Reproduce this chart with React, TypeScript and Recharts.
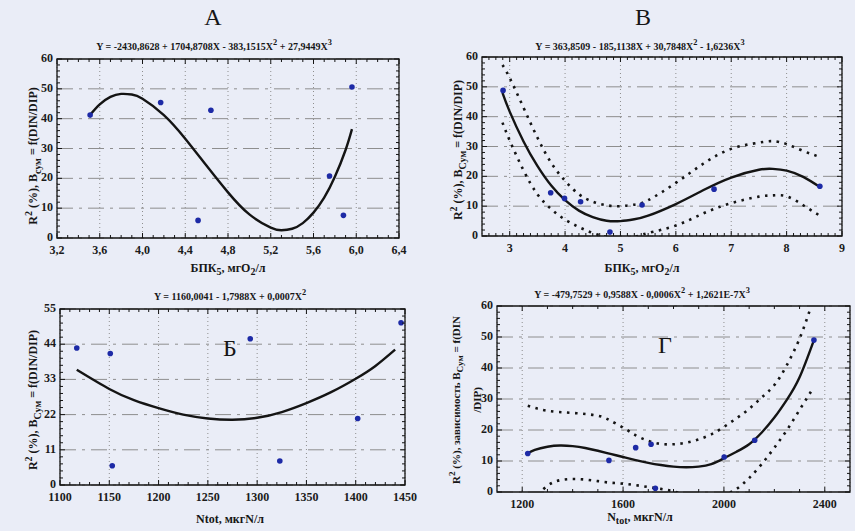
import React from "react";
import {
  ComposedChart,
  Line,
  Scatter,
  XAxis,
  YAxis,
  CartesianGrid,
  ReferenceArea,
} from "recharts";

// panel A: BOD5 vs R2
const aPtX = [3.51, 4.17, 4.52, 4.64, 5.75, 5.88, 5.96];
const aPtY = [41.2, 45.4, 5.9, 42.8, 20.8, 7.6, 50.6];
const aFitX = [3.51, 3.6, 3.7, 3.8, 3.9, 4.0, 4.2, 4.4, 4.6, 4.8, 5.0, 5.2, 5.3, 5.4, 5.5, 5.6, 5.7, 5.8, 5.9, 5.96];
const aFitY = [41.3, 44.8, 47.3, 48.3, 48.1, 46.7, 41.2, 33.3, 24.2, 15.3, 7.9, 3.5, 2.6, 3.1, 5.0, 8.5, 13.5, 20.5, 29.5, 36.5];

// panel B: BOD5 vs R2 with confidence band
const bPtX = [2.88, 3.74, 3.99, 4.28, 4.81, 5.39, 6.69, 8.6];
const bPtY = [48.8, 14.5, 12.6, 11.5, 1.3, 10.4, 15.7, 16.7];
const bFitX = [2.87, 3.0, 3.25, 3.5, 3.75, 4.0, 4.25, 4.5, 4.75, 5.0, 5.25, 5.5, 6.0, 6.5, 7.0, 7.5, 7.75, 8.0, 8.3, 8.6];
const bFitY = [48.0, 41.7, 31.7, 23.5, 16.9, 12.0, 8.5, 6.3, 5.1, 5.0, 5.6, 6.8, 10.7, 15.4, 19.6, 22.2, 22.5, 21.9, 19.8, 16.4];
const bUpY = [57.3, 53.0, 43.0, 33.0, 24.5, 18.5, 14.0, 11.5, 10.3, 10.0, 10.5, 12.0, 17.8, 24.3, 29.2, 31.3, 31.8, 30.8, 28.5, 26.5];
const bLoY = [38.0, 32.0, 22.0, 14.0, 9.0, 5.5, 3.0, 1.0, -0.3, -0.8, -0.3, 1.0, 3.5, 7.6, 11.0, 13.2, 13.6, 13.3, 10.3, 6.8];

// panel Б: Ntot vs R2
const cPtX = [1117, 1151, 1153, 1293, 1323, 1402, 1446];
const cPtY = [42.8, 41.1, 6.0, 45.7, 7.5, 20.8, 50.7];
const cFitX = [1117, 1150, 1175, 1200, 1225, 1250, 1275, 1300, 1325, 1350, 1375, 1400, 1420, 1440];
const cFitY = [36.0, 30.0, 26.5, 24.0, 22.0, 20.8, 20.4, 21.0, 22.8, 25.6, 29.0, 33.2, 37.2, 42.3];

// panel Г: Ntot vs R2 with confidence band
const dPtX = [1222, 1544, 1650, 1711, 1728, 2001, 2122, 2357];
const dPtY = [12.4, 10.2, 14.3, 15.4, 1.2, 11.3, 16.7, 49.0];
const dFitX = [1222, 1250, 1300, 1350, 1400, 1450, 1500, 1550, 1600, 1650, 1700, 1750, 1800, 1850, 1900, 1950, 2000, 2050, 2100, 2150, 2200, 2250, 2300, 2357];
const dFitY = [12.5, 13.6, 14.6, 15.0, 14.8, 14.2, 13.3, 12.3, 11.3, 10.3, 9.4, 8.7, 8.2, 8.0, 8.2, 9.0, 10.9, 13.0, 15.4, 19.2, 24.0, 29.8, 37.0, 49.0];
const dUpX = [1222, 1300, 1400, 1500, 1550, 1600, 1650, 1700, 1750, 1800, 1850, 1900, 1950, 2000, 2050, 2100, 2150, 2200, 2250, 2300, 2340];
const dUpY = [27.8, 26.2, 25.5, 24.6, 23.0, 20.8, 18.3, 16.5, 15.5, 15.4, 15.9, 17.0, 18.6, 21.0, 23.8, 26.8, 30.5, 34.5, 41.0, 49.5, 58.5];
const dLoX = [1222, 1250, 1300, 1350, 1400, 1450, 1500, 1550, 1600, 1650, 1700, 1750, 1800, 1850, 1900, 1950, 2000, 2050, 2100, 2150, 2200, 2250, 2300, 2350];
const dLoY = [-5.0, -2.0, 2.0, 3.8, 4.2, 4.0, 3.5, 3.0, 2.7, 2.2, 1.6, 1.0, 0.2, -1.0, -2.0, -2.0, -1.0, 1.0, 4.5, 9.0, 14.3, 20.0, 26.5, 33.0];

const aTicksX = [3.2, 3.6, 4.0, 4.4, 4.8, 5.2, 5.6, 6.0, 6.4];
const bTicksX = [3, 4, 5, 6, 7, 8, 9];
const cTicksX = [1100, 1150, 1200, 1250, 1300, 1350, 1400, 1450];
const dTicksX = [1200, 1600, 2000, 2400];
const ticks60 = [0, 10, 20, 30, 40, 50, 60];
const ticks55 = [0, 11, 22, 33, 44, 55];

const zip = (xs: number[], ys: number[]) => xs.map((x, i) => ({ x, y: ys[i] }));

const SERIF = "'Liberation Serif', 'DejaVu Serif', serif";
const INK = "#141414";
const tickText = { fontSize: 12, fontWeight: 700, fill: "#1b1b1b", fontFamily: SERIF };
const comma = (v: number) => v.toFixed(1).replace(".", ",");

type Pt = { x: number; y: number };

function Panel(props: {
  left: number;
  top: number;
  width: number;
  height: number;
  margin: { top: number; right: number; bottom: number; left: number };
  yWidth: number;
  xHeight: number;
  xDomain: [number, number];
  xTicks: number[];
  xSub: number;
  yTicks: number[];
  ySub: number;
  xFmt?: (v: number) => string;
  points: Pt[];
  fit: Pt[];
  upper?: Pt[];
  lower?: Pt[];
}) {
  const { xDomain, yTicks, xTicks, margin } = props;
  const yDomain: [number, number] = [yTicks[0], yTicks[yTicks.length - 1]];
  const pl = margin.left + props.yWidth;
  const pr = props.width - margin.right;
  const pt = margin.top;
  const pb = props.height - margin.bottom - props.xHeight;
  // spacing of minor ticks in pixels
  const xMinorPx = (((xTicks[1] - xTicks[0]) / props.xSub) * (pr - pl)) / (xDomain[1] - xDomain[0]);
  const yMinorPx = (((yTicks[1] - yTicks[0]) / props.ySub) * (pb - pt)) / (yDomain[1] - yDomain[0]);

  const xTick = (p: any) => {
    const x = p.x;
    const minors: number[] = [];
    for (let k = 1; k < props.xSub; k++) {
      if (x + k * xMinorPx < pr - 1) minors.push(x + k * xMinorPx);
      if (p.index === 0 && x - k * xMinorPx > pl + 1) minors.push(x - k * xMinorPx);
    }
    const fmt = props.xFmt ? props.xFmt(p.payload.value) : String(p.payload.value);
    return (
      <g>
        <text x={x} y={pb + 7} dy="0.71em" textAnchor="middle" {...tickText}>
          {fmt}
        </text>
        <line x1={x} x2={x} y1={pb} y2={pb - 5} stroke={INK} />
        <line x1={x} x2={x} y1={pt} y2={pt + 5} stroke={INK} />
        {minors.map((m, i) => (
          <g key={i}>
            <line x1={m} x2={m} y1={pb} y2={pb - 3} stroke={INK} />
            <line x1={m} x2={m} y1={pt} y2={pt + 3} stroke={INK} />
          </g>
        ))}
      </g>
    );
  };

  const yTick = (p: any) => {
    const y = p.y;
    const minors: number[] = [];
    for (let k = 1; k < props.ySub; k++) {
      if (y - k * yMinorPx > pt + 1) minors.push(y - k * yMinorPx);
    }
    return (
      <g>
        <text x={pl - 4} y={y - 1} dy="0.34em" textAnchor="end" {...tickText}>
          {p.payload.value}
        </text>
        <line x1={pl} x2={pl + 5} y1={y} y2={y} stroke={INK} />
        <line x1={pr} x2={pr - 5} y1={y} y2={y} stroke={INK} />
        {minors.map((m, i) => (
          <g key={i}>
            <line x1={pl} x2={pl + 3} y1={m} y2={m} stroke={INK} />
            <line x1={pr} x2={pr - 3} y1={m} y2={m} stroke={INK} />
          </g>
        ))}
      </g>
    );
  };

  const dot = (p: any) => <circle cx={p.cx} cy={p.cy} r={2.8} fill="#1d2aa6" />;
  return (
    <div style={{ position: "absolute", left: props.left, top: props.top }}>
      <ComposedChart width={props.width} height={props.height} margin={margin}>
        <CartesianGrid horizontal vertical={false} stroke="#8e8e8e" strokeDasharray="16 6 3 6" />
        <CartesianGrid horizontal={false} vertical stroke="#8e8e8e" strokeDasharray="1 3" />
        <XAxis
          type="number"
          dataKey="x"
          domain={xDomain}
          ticks={xTicks}
          interval={0}
          allowDataOverflow
          tick={xTick}
          tickLine={false}
          axisLine={false}
          height={props.xHeight}
        />
        <YAxis
          type="number"
          domain={yDomain}
          ticks={yTicks}
          interval={0}
          allowDataOverflow
          tick={yTick}
          tickLine={false}
          axisLine={false}
          width={props.yWidth}
        />
        <ReferenceArea
          x1={xDomain[0]}
          x2={xDomain[1]}
          y1={yDomain[0]}
          y2={yDomain[1]}
          fill="none"
          fillOpacity={0}
          stroke={INK}
          strokeWidth={1.3}
        />
        {props.upper && (
          <Line data={props.upper} dataKey="y" type="natural" dot={false} stroke={INK} strokeWidth={2.6} strokeDasharray="2.5 5.5" isAnimationActive={false} />
        )}
        {props.lower && (
          <Line data={props.lower} dataKey="y" type="natural" dot={false} stroke={INK} strokeWidth={2.6} strokeDasharray="2.5 5.5" isAnimationActive={false} />
        )}
        <Line data={props.fit} dataKey="y" type="natural" dot={false} stroke={INK} strokeWidth={2.4} isAnimationActive={false} />
        <Scatter data={props.points} dataKey="y" shape={dot} isAnimationActive={false} />
      </ComposedChart>
    </div>
  );
}

const abs = (x: number, y: number, extra: React.CSSProperties = {}): React.CSSProperties => ({
  position: "absolute",
  left: x,
  top: y,
  transform: "translate(-50%, -50%)",
  whiteSpace: "nowrap",
  fontFamily: SERIF,
  color: "#161616",
  ...extra,
});

const eq: React.CSSProperties = { fontSize: 10, fontWeight: 700 };
const big: React.CSSProperties = { fontSize: 24 };
const axisLbl: React.CSSProperties = { fontSize: 12, fontWeight: 700 };
const rot = (x: number, y: number, extra: React.CSSProperties = {}) =>
  abs(x, y, { ...axisLbl, transform: "translate(-50%, -50%) rotate(-90deg)", ...extra });

export default function App() {
  return (
    <div style={{ position: "fixed", left: 0, top: 0, width: 855, height: 531, background: "#eaedf7", overflow: "hidden" }}>
      <Panel
        left={0}
        top={0}
        width={420}
        height={282}
        margin={{ top: 59, right: 21, bottom: 0, left: 0 }}
        yWidth={57}
        xHeight={44}
        xDomain={[3.2, 6.4]}
        xTicks={aTicksX}
        xSub={4}
        yTicks={ticks60}
        ySub={5}
        xFmt={comma}
        points={zip(aPtX, aPtY)}
        fit={zip(aFitX, aFitY)}
      />
      <Panel
        left={425}
        top={0}
        width={430}
        height={280}
        margin={{ top: 57, right: 13, bottom: 0, left: 0 }}
        yWidth={57}
        xHeight={44}
        xDomain={[2.5, 9]}
        xTicks={bTicksX}
        xSub={8}
        yTicks={ticks60}
        ySub={5}
        points={zip(bPtX, bPtY)}
        fit={zip(bFitX, bFitY)}
        upper={zip(bFitX, bUpY)}
        lower={zip(bFitX, bLoY)}
      />
      <Panel
        left={0}
        top={265}
        width={420}
        height={265}
        margin={{ top: 44, right: 15, bottom: 0, left: 0 }}
        yWidth={60}
        xHeight={45}
        xDomain={[1100, 1450]}
        xTicks={cTicksX}
        xSub={5}
        yTicks={ticks55}
        ySub={5}
        points={zip(cPtX, cPtY)}
        fit={zip(cFitX, cFitY)}
      />
      <Panel
        left={425}
        top={265}
        width={430}
        height={265}
        margin={{ top: 41, right: 5, bottom: 0, left: 0 }}
        yWidth={72}
        xHeight={38}
        xDomain={[1100, 2500]}
        xTicks={dTicksX}
        xSub={4}
        yTicks={ticks60}
        ySub={5}
        points={zip(dPtX, dPtY)}
        fit={zip(dFitX, dFitY)}
        upper={zip(dUpX, dUpY)}
        lower={zip(dLoX, dLoY)}
      />

      <div style={abs(213, 17, big)}>А</div>
      <div style={abs(643, 17, big)}>В</div>
      <div style={abs(230, 348, big)}>Б</div>
      <div style={abs(665, 345, big)}>Г</div>

      <div style={abs(214, 45, eq)}>
        Y = -2430,8628 + 1704,8708X - 383,1515X<sup>2</sup> + 27,9449X<sup>3</sup>
      </div>
      <div style={abs(640, 45, eq)}>
        Y = 363,8509 - 185,1138X + 30,7848X<sup>2</sup> - 1,6236X<sup>3</sup>
      </div>
      <div style={abs(230, 295, eq)}>
        Y = 1160,0041 - 1,7988X + 0,0007X<sup>2</sup>
      </div>
      <div style={abs(642, 293, eq)}>
        Y = -479,7529 + 0,9588X - 0,0006X<sup>2</sup> + 1,2621E-7X<sup>3</sup>
      </div>

      <div style={abs(228, 269, axisLbl)}>
        БПК<sub>5</sub>, мгО<sub>2</sub>/л
      </div>
      <div style={abs(642, 269, axisLbl)}>
        БПК<sub>5</sub>, мгО<sub>2</sub>/л
      </div>
      <div style={abs(230, 519, axisLbl)}>Ntot, мкгN/л</div>
      <div style={abs(640, 518, axisLbl)}>
        N<sub>tot</sub>, мкгN/л
      </div>

      <div style={rot(33, 156)}>
        R<sup>2</sup> (%), B<sub>сум</sub> = f(DIN/DIP)
      </div>
      <div style={rot(458, 150)}>
        R<sup>2</sup> (%), B<sub>Сум</sub> = f(DIN/DIP)
      </div>
      <div style={rot(33, 400)}>
        R<sup>2</sup> (%), B<sub>Сум</sub> = f(DIN/DIP)
      </div>
      <div style={rot(465, 400, { fontSize: 11, textAlign: "center", lineHeight: "17px" })}>
        R<sup>2</sup> (%), зависимость B<sub>Сум</sub> = f(DIN
        <br />
        /DIP)
      </div>
    </div>
  );
}
